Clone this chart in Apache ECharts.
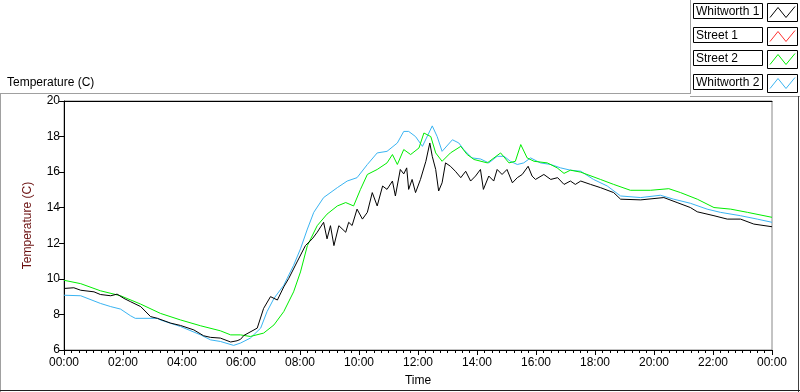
<!DOCTYPE html>
<html>
<head>
<meta charset="utf-8">
<script src="https://cdn.jsdelivr.net/npm/echarts@6/dist/echarts.min.js"></script>
<style>
  html, body { margin: 0; padding: 0; background: #fff; }
  #main { width: 800px; height: 392px; }
</style>
</head>
<body>
<div id="main"></div>
<script>
// time in minutes since 00:00
var whitworth1Minutes = [0, 20, 34, 61, 74, 95, 108, 122, 135, 156, 176, 190, 217, 237, 264, 284, 298, 318, 339, 352, 359, 366, 393, 406, 420, 434, 447, 457, 474, 491, 505, 515, 528, 535, 542, 549, 559, 573, 579, 586, 596, 607, 617, 627, 637, 648, 657, 668, 674, 684, 691, 697, 701, 708, 715, 725, 736, 744, 749, 756, 762, 769, 776, 786, 796, 807, 817, 827, 837, 847, 853, 864, 874, 881, 891, 901, 912, 922, 932, 944, 952, 959, 976, 990, 1004, 1017, 1030, 1040, 1051, 1071, 1091, 1118, 1132, 1173, 1220, 1247, 1274, 1288, 1322, 1349, 1376, 1403, 1440];
var whitworth1Values = [9.46, 9.5, 9.36, 9.27, 9.12, 9.05, 9.14, 8.9, 8.72, 8.44, 7.88, 7.78, 7.51, 7.38, 7.13, 6.8, 6.71, 6.67, 6.45, 6.52, 6.6, 6.82, 7.23, 8.34, 9.0, 8.81, 9.55, 10.02, 10.95, 11.87, 12.25, 12.62, 13.18, 12.25, 12.99, 11.87, 12.99, 12.62, 13.18, 13.0, 13.92, 13.36, 13.74, 14.85, 14.1, 15.22, 15.03, 15.5, 14.66, 16.15, 15.9, 16.24, 15.03, 15.59, 14.85, 15.59, 16.61, 17.64, 16.89, 16.15, 14.94, 15.4, 16.52, 16.33, 16.05, 15.69, 16.05, 15.5, 15.78, 16.15, 15.03, 15.78, 15.5, 16.15, 15.87, 16.15, 15.4, 15.69, 15.87, 16.33, 15.78, 15.59, 15.87, 15.59, 15.69, 15.31, 15.5, 15.31, 15.5, 15.31, 15.13, 14.85, 14.48, 14.44, 14.57, 14.29, 14.01, 13.77, 13.55, 13.36, 13.36, 13.08, 12.93];

var street1Minutes = [];
var street1Values = [];

var street2Minutes = [0, 34, 74, 115, 156, 196, 237, 278, 318, 339, 359, 379, 406, 427, 447, 467, 481, 495, 515, 535, 556, 573, 589, 603, 617, 637, 657, 668, 678, 691, 705, 722, 732, 746, 756, 769, 786, 807, 820, 834, 861, 888, 905, 918, 929, 942, 956, 983, 1003, 1017, 1030, 1051, 1091, 1118, 1152, 1193, 1230, 1254, 1288, 1322, 1356, 1390, 1440];
var street2Values = [9.92, 9.73, 9.33, 9.05, 8.58, 8.06, 7.69, 7.36, 7.08, 6.85, 6.85, 6.76, 6.95, 7.41, 8.16, 9.27, 10.39, 11.87, 12.99, 13.64, 14.1, 14.29, 14.1, 15.03, 15.87, 16.15, 16.52, 16.99, 16.43, 17.27, 16.99, 17.36, 18.2, 18.0, 17.08, 16.61, 17.08, 17.45, 16.99, 16.71, 16.52, 17.08, 16.52, 16.61, 17.55, 16.8, 16.61, 16.52, 16.24, 15.93, 16.11, 16.0, 15.59, 15.31, 14.98, 14.98, 15.07, 14.85, 14.48, 14.01, 13.92, 13.74, 13.46];

var whitworth2Minutes = [0, 34, 74, 95, 115, 135, 145, 190, 196, 237, 278, 298, 318, 345, 359, 379, 400, 413, 427, 447, 467, 481, 495, 508, 528, 556, 576, 596, 617, 637, 657, 678, 691, 701, 715, 729, 749, 759, 769, 790, 803, 813, 830, 847, 864, 881, 895, 908, 922, 935, 949, 969, 990, 1010, 1030, 1051, 1077, 1105, 1132, 1173, 1213, 1240, 1274, 1308, 1335, 1376, 1410, 1440];
var whitworth2Values = [9.08, 9.05, 8.62, 8.44, 8.3, 7.93, 7.78, 7.78, 7.69, 7.32, 6.85, 6.57, 6.48, 6.26, 6.39, 6.67, 7.23, 8.16, 8.9, 9.64, 10.76, 11.69, 12.8, 13.74, 14.57, 15.13, 15.5, 15.69, 16.43, 17.08, 17.17, 17.64, 18.29, 18.29, 18.0, 17.45, 18.6, 18.0, 17.17, 17.82, 17.64, 17.27, 16.8, 16.74, 16.52, 16.89, 16.89, 16.61, 16.43, 16.52, 16.8, 16.52, 16.43, 16.24, 16.11, 16.05, 15.59, 15.22, 14.66, 14.57, 14.7, 14.48, 14.25, 13.92, 13.74, 13.55, 13.36, 13.18];

var seriesNames = ['Whitworth 1', 'Street 1', 'Street 2', 'Whitworth 2'];
var seriesColors = ['#000000', '#ff3030', '#00ee00', '#3ab4f2'];
var seriesMinutes = [whitworth1Minutes, street1Minutes, street2Minutes, whitworth2Minutes];
var seriesValues = [whitworth1Values, street1Values, street2Values, whitworth2Values];

var yTicks = [6, 8, 10, 12, 14, 16, 18, 20];

var FONT = 'Liberation Sans';

function pairs(mins, vals) {
    var out = [];
    for (var i = 0; i < mins.length; i++) out.push([mins[i], vals[i]]);
    return out;
}

function hhmm(v) {
    var m = v % 1440;
    var h = Math.floor(m / 60);
    var mm = m % 60;
    return (h < 10 ? '0' : '') + h + ':' + (mm < 10 ? '0' : '') + mm;
}

var myChart = echarts.init(document.getElementById('main'));

var series = [];
for (var i = 0; i < seriesNames.length; i++) {
    series.push({
        name: seriesNames[i],
        type: 'line',
        data: pairs(seriesMinutes[i], seriesValues[i]),
        showSymbol: false,
        lineStyle: { color: seriesColors[i], width: 1 },
        itemStyle: { color: seriesColors[i] },
        z: 10 - i
    });
}

// outer panel frame
var graphics = [
    { type: 'line', shape: { x1: 0.5, y1: 93.5, x2: 0.5, y2: 392 }, style: { stroke: '#a0a0a0', lineWidth: 1 } },
    { type: 'line', shape: { x1: 0, y1: 93.5, x2: 690, y2: 93.5 }, style: { stroke: '#a0a0a0', lineWidth: 1 } },
    { type: 'line', shape: { x1: 690.5, y1: 0, x2: 690.5, y2: 94 }, style: { stroke: '#a0a0a0', lineWidth: 1 } },
    { type: 'line', shape: { x1: 690, y1: 96.5, x2: 800, y2: 96.5 }, style: { stroke: '#a0a0a0', lineWidth: 1 } },
    { type: 'line', shape: { x1: 798.5, y1: 96, x2: 798.5, y2: 392 }, style: { stroke: '#404040', lineWidth: 1 } },
    { type: 'line', shape: { x1: 0, y1: 390.5, x2: 800, y2: 390.5 }, style: { stroke: '#202020', lineWidth: 1 } }
];
// legend: name box + swatch box with a zigzag in the series colour
for (var k = 0; k < seriesNames.length; k++) {
    var y0 = 3.5 + Math.round(k * 23.5);
    graphics.push({
        type: 'rect',
        shape: { x: 693.5, y: y0, width: 69, height: 15 },
        style: { fill: '#fff', stroke: '#000', lineWidth: 1 }
    });
    graphics.push({
        type: 'text',
        x: 696,
        y: y0 + 8,
        style: { text: seriesNames[k], fill: '#000', font: '12px ' + FONT, textVerticalAlign: 'middle', verticalAlign: 'middle' }
    });
    graphics.push({
        type: 'rect',
        shape: { x: 767.5, y: y0, width: 30, height: 18 },
        style: { fill: '#fff', stroke: '#000', lineWidth: 1 }
    });
    graphics.push({
        type: 'polyline',
        shape: { points: [[770, y0 + 14], [778, y0 + 4], [786, y0 + 14], [795, y0 + 3]] },
        style: { fill: 'none', stroke: seriesColors[k], lineWidth: 1 }
    });
}

var option = {
    animation: false,
    backgroundColor: '#fff',
    title: {
        text: 'Temperature (C)',
        left: 2,
        top: 72,
        textStyle: { fontFamily: FONT, fontSize: 12, fontWeight: 'normal', color: '#000' }
    },
    grid: {
        left: 64,
        right: 28,
        top: 101,
        bottom: 40,
        show: true,
        borderColor: '#888',
        borderWidth: 1
    },
    xAxis: [{
        type: 'value',
        min: 0,
        max: 1440,
        interval: 120,
        name: 'Time',
        nameLocation: 'middle',
        nameGap: 25,
        nameTextStyle: { fontFamily: FONT, fontSize: 12, color: '#000' },
        axisLine: { lineStyle: { color: '#000' } },
        axisTick: { length: 5, lineStyle: { color: '#000' } },
        minorTick: { show: true, splitNumber: 8, length: 3, lineStyle: { color: '#000' } },
        splitLine: { show: false },
        axisLabel: {
            fontFamily: FONT, fontSize: 12, color: '#000', margin: 7,
            formatter: hhmm,
            showMinLabel: true, showMaxLabel: true
        }
    }, {
        type: 'value',
        position: 'top',
        min: 0,
        max: 1440,
        axisLine: { show: true, lineStyle: { color: '#000' } },
        axisTick: { show: false },
        axisLabel: { show: false },
        splitLine: { show: false }
    }],
    yAxis: {
        type: 'value',
        min: yTicks[0],
        max: yTicks[yTicks.length - 1],
        interval: 2,
        name: 'Temperature (C)',
        nameLocation: 'middle',
        nameGap: 30,
        nameRotate: 90,
        nameTextStyle: { fontFamily: FONT, fontSize: 12, color: '#6b1010' },
        axisLine: { show: true, lineStyle: { color: '#000' } },
        axisTick: { show: true, length: 5, lineStyle: { color: '#000' } },
        splitLine: { show: false },
        axisLabel: { fontFamily: FONT, fontSize: 12, color: '#000', margin: 4 }
    },
    graphic: graphics,
    series: series
};

myChart.setOption(option);
</script>
</body>
</html>
